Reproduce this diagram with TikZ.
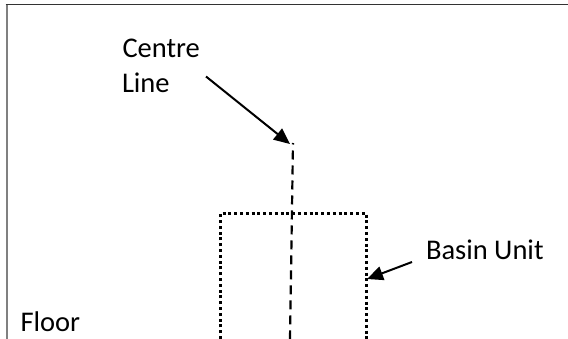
\documentclass[tikz,border=0pt]{standalone}
\usepackage{fontspec}
\setmainfont{Carlito}
\usetikzlibrary{arrows.meta}
\begin{document}
\begin{tikzpicture}[x=1pt,y=-1pt,
  lbl/.style={inner sep=0pt,outer sep=0pt,anchor=base west,font=\fontsize{28.5}{32}\selectfont,text=black},
  arr/.style={line width=2pt,-{Triangle[length=16pt,width=14pt]}},
  dotline/.style={line width=3pt,dash pattern=on 3pt off 2.8pt},
  dashline/.style={line width=2.2pt,dash pattern=on 9pt off 6pt,dash phase=7.5pt}]
\useasboundingbox (0,0) rectangle (568,339);
\draw[line width=2pt,color=black!50] (6.5,340) -- (6.5,5);
\draw[line width=1pt,color=black!80] (5.5,4.8) -- (568,4.8);
\node[lbl] (c) at (122.5,58) {Centre};
\node[lbl] (l) at (122,93) {Line};
\node[lbl] (b) at (426,259.5) {Basin Unit};
\node[lbl] (f) at (20.5,331) {Floor};
\coordinate (a1s) at (206,76.5);
\coordinate (a1e) at (290,144);
\coordinate (a2s) at (412,262);
\coordinate (a2e) at (367,279);
\draw[arr] (a1s) -- (a1e);
\draw[arr] (a2s) -- (a2e);
\draw[dotline] (220.5,339) -- (220.5,213.5) -- (366.5,213.5) -- (366.5,339);
\draw[dashline] (293,143) -- (290,339);
\end{tikzpicture}
\end{document}
